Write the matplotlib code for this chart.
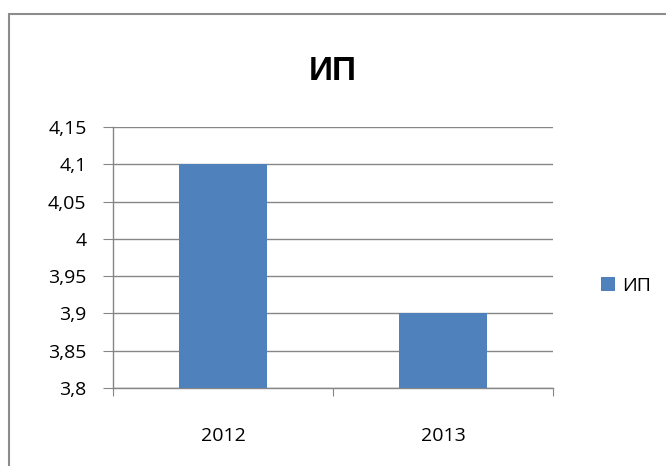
import matplotlib.pyplot as plt
import matplotlib.patches as patches
from matplotlib.ticker import FuncFormatter, MultipleLocator
import numpy as np

years = ['2012', '2013']
values = [4.1, 3.9]
series_name = 'ИП'

bar_color = '#4F81BD'
grid_color = '#868686'

plt.rcParams['font.family'] = ['Open Sans', 'DejaVu Sans']

fig = plt.figure(figsize=(6.66, 4.66), dpi=100)
ax = fig.add_axes([113/666, 1 - 388/466, 440/666, 261/466])

x = np.arange(len(years))
ax.bar(x, values, width=0.4, color=bar_color, label=series_name, zorder=3)

ax.set_xlim(-0.5, len(years) - 0.5)
ax.set_ylim(3.8, 4.15)
ax.yaxis.set_major_locator(MultipleLocator(0.05))

def comma(v, pos):
    s = f'{v:.2f}'.rstrip('0').rstrip('.')
    return s.replace('.', ',')

ax.yaxis.set_major_formatter(FuncFormatter(comma))
ax.grid(axis='y', color=grid_color, linewidth=1, zorder=0)

# category boundaries get tick marks, labels sit at centres
ax.set_xticks(np.arange(len(years) + 1) - 0.5)
ax.set_xticklabels([])
ax.set_xticks(x, minor=True)
ax.set_xticklabels(years, minor=True)
ax.tick_params(axis='x', which='major', length=6, color=grid_color, direction='out')
ax.tick_params(axis='x', which='minor', length=0, pad=28, labelsize=14)
ax.tick_params(axis='y', length=7, color=grid_color, pad=12, labelsize=14)

for s in ['top', 'right']:
    ax.spines[s].set_visible(False)
for s in ['left', 'bottom']:
    ax.spines[s].set_color(grid_color)
    ax.spines[s].set_linewidth(1)

fig.text(333/666, 1 - 71/466, 'ИП', ha='center', va='center',
         fontsize=24, fontweight='bold', family=['Liberation Sans', 'DejaVu Sans'])

fig.legend(loc='center left', bbox_to_anchor=(593/666, 1 - 286/466), frameon=False,
           fontsize=14, handlelength=0.75, handleheight=0.75, handletextpad=0.35,
           borderaxespad=0)

# outer chart border, cut off at the right and bottom edges
fig.patches.append(patches.Rectangle((9/666, -0.1), 1.0, 1 - 14/466 + 0.1,
                                     transform=fig.transFigure, fill=False,
                                     edgecolor='#8c8c8c', linewidth=1.5))

fig.savefig('out.png', dpi=100)
